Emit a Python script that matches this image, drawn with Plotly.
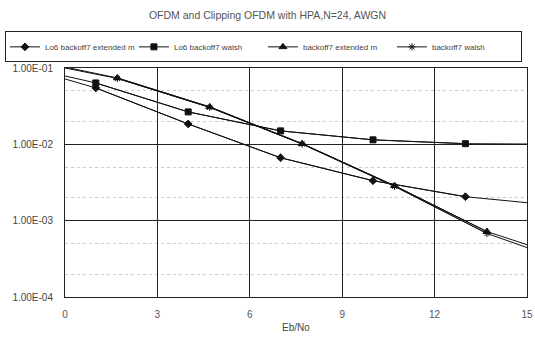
import plotly.graph_objects as go

title = "OFDM and Clipping OFDM with HPA,N=24, AWGN"
x_title = "Eb/No"
names = ["Lo6 backoff7 extended m", "Lo6 backoff7 walsh", "backoff7 extended m", "backoff7 walsh"]

# series 1 & 2 (Lo6) sampled at these Eb/No values
x_lo6 = [0, 1, 4, 7, 10, 13, 15]
ber_lo6_ext = [0.0718, 0.0548, 0.0185, 0.00667, 0.00334, 0.00206, 0.00172]
ber_lo6_walsh = [0.0786, 0.0637, 0.0266, 0.0150, 0.01145, 0.0102, 0.0101]

# series 3 & 4 sampled at these Eb/No values
x_bo = [0, 1.7, 4.7, 7.7, 10.7, 13.7, 15]
ber_bo_ext = [0.103, 0.074, 0.0309, 0.0102, 0.00287, 0.00072, 0.000485]
ber_bo_walsh = [0.100, 0.073, 0.0305, 0.0101, 0.00282, 0.00068, 0.000444]

y_tickvals = [0.1, 0.01, 0.001, 0.0001]
y_ticktext = ["1.00E-01", "1.00E-02", "1.00E-03", "1.00E-04"]
x_tickvals = [0, 3, 6, 9, 12, 15]

series = [
    (x_lo6, ber_lo6_ext, "diamond", 6),
    (x_lo6, ber_lo6_walsh, "square", 6),
    (x_bo, ber_bo_ext, "triangle-up", 7),
    (x_bo, ber_bo_walsh, "asterisk-open", 6),
]

font = "Liberation Sans, Arial, sans-serif"
ink = "#111111"

fig = go.Figure()
for name, (xs, ys, sym, sz) in zip(names, series):
    # full line (endpoints have no markers)
    fig.add_trace(go.Scatter(x=xs, y=ys, mode="lines", line=dict(color=ink, width=1),
                             showlegend=False, legendgroup=name, hoverinfo="skip"))
    # inner points with markers
    fig.add_trace(go.Scatter(x=xs[1:-1], y=ys[1:-1], mode="lines+markers", name=name,
                             legendgroup=name,
                             line=dict(color=ink, width=1),
                             marker=dict(symbol=sym, size=sz, color=ink,
                                         line=dict(color=ink, width=1))))

fig.update_layout(
    width=535, height=338,
    margin=dict(l=65, r=8, t=68, b=41, autoexpand=False),
    paper_bgcolor="white", plot_bgcolor="white",
    font=dict(family=font, size=10, color="#444444"),
    title=dict(text=title, x=0.5, xanchor="center", y=0.955, yanchor="middle",
               font=dict(size=10.5, color="#555555")),
    legend=dict(orientation="h", x=-0.13, xanchor="left", y=1.16, yanchor="top",
                bordercolor="#222222", borderwidth=1, bgcolor="white",
                font=dict(size=8, color="#444444"),
                entrywidth=84, entrywidthmode="pixels",
                tracegroupgap=0, itemwidth=30),
    showlegend=True,
)

fig.update_xaxes(
    range=[0, 15], tickvals=x_tickvals, showgrid=True, gridcolor="#222222", gridwidth=1,
    showline=True, linecolor="#222222", mirror=True, ticks="", zeroline=False,
    title=dict(text=x_title, font=dict(size=10, color="#444444"), standoff=4),
    tickfont=dict(size=10, color="#555555"), ticklabelstandoff=8,
    ticklabeloverflow="allow", automargin=False,
)
fig.update_yaxes(
    type="log", range=[-4, -1], tickvals=y_tickvals, ticktext=y_ticktext,
    showgrid=True, gridcolor="#222222", gridwidth=1,
    showline=True, linecolor="#222222", mirror=True, ticks="", zeroline=False,
    tickfont=dict(size=10, color="#444444"), ticklabelstandoff=9,
    ticklabeloverflow="allow", automargin=False,
    minor=dict(tickvals=[0.05, 0.02, 0.005, 0.002, 0.0005, 0.0002], showgrid=True,
               gridcolor="#cccccc", griddash="dot", gridwidth=1),
)

fig.write_html("out.html")
